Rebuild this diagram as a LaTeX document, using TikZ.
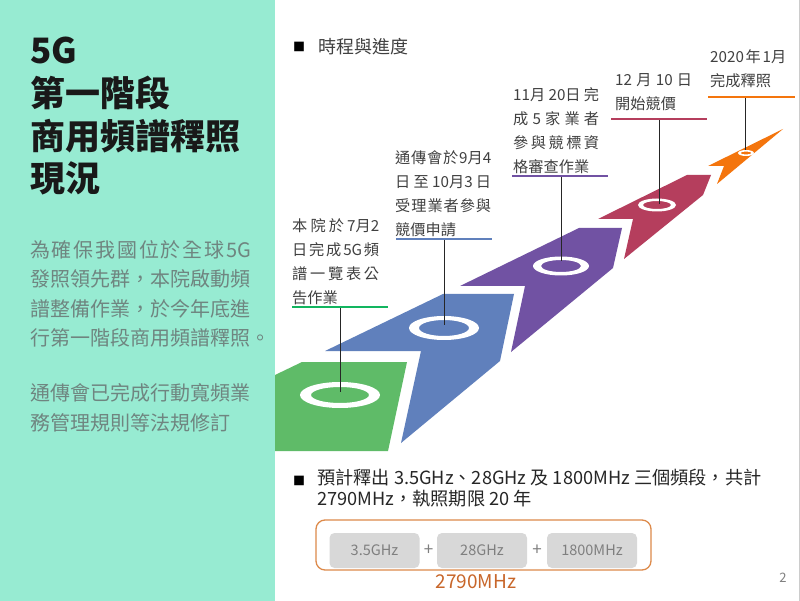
\documentclass[tikz,border=0pt]{standalone}
\usepackage{fontspec}
\setmainfont{Noto Sans CJK TC}
\definecolor{panel}{HTML}{97EBD2}
\definecolor{grayt}{HTML}{6F8580}
\definecolor{inkt}{HTML}{404040}
\definecolor{cgreen}{HTML}{5FBB68}
\definecolor{cblue}{HTML}{6080BC}
\definecolor{cpurple}{HTML}{7152A3}
\definecolor{ccrim}{HTML}{B53E5D}
\definecolor{corange}{HTML}{F4750D}
\definecolor{lgreen}{HTML}{12B55F}
\definecolor{boxo}{HTML}{DD8A4A}
\definecolor{boxg}{HTML}{D8D8D8}
\definecolor{boxt}{HTML}{7F7F7F}
\definecolor{tott}{HTML}{C8662A}
\newcommand{\jl}[2]{\makebox[#1pt][s]{#2}}
\tikzset{
  x=1pt,y=-1pt,
  step label/.style={anchor=north west,inner sep=0pt,align=left,text=inkt,font=\fontsize{15.2}{24}\selectfont},
  stem/.style={draw=black!85,line width=0.9pt},
  gband/.style={inner sep=0pt,minimum height=35pt,minimum width=90pt,rounded corners=5pt,fill=boxg,text=boxt,font=\fontsize{14.5}{16}\selectfont},
  plus/.style={inner sep=0pt,text=boxt,font=\fontsize{17}{18}\selectfont},
}
\begin{document}
\begin{tikzpicture}
\useasboundingbox (0,0) rectangle (800,601);
\fill[white] (0,0) rectangle (800,601);
\fill[panel] (0,0) rectangle (275,601);
\fill[black!20] (798.6,0) rectangle (800,601);
\node[anchor=north west,inner sep=0pt,align=left,font=\bfseries\fontsize{35}{42.7}\selectfont,text=black!90] (title) at (30,37) {5G\\第一階段\\商用頻譜釋照\\現況};
\node[anchor=north west,inner sep=0pt,align=left,font=\fontsize{20}{29.6}\selectfont,text=grayt] (intro) at (30,240) {\jl{221}{為\hfill 確\hfill 保\hfill 我\hfill 國\hfill 位\hfill 於\hfill 全\hfill 球\hfill 5G}\\\jl{221}{發照領先群，本院啟動頻}\\\jl{221}{譜整備作業，於今年底進}\\行第一階段商用頻譜釋照。\\[25pt]通傳會已完成行動寬頻業\\務管理規則等法規修訂};
\node[anchor=west,inner sep=0pt,font=\fontsize{12}{20}\selectfont,text=black] (headb) at (293,47) {■};
\node[anchor=west,inner sep=0pt,font=\fontsize{18}{20}\selectfont,text=inkt] (head) at (318,47) {時程與進度};
% arrows
\fill[cgreen] (275,375) -- (302,362) -- (407,362) -- (388,451) -- (275,451) -- cycle;
\fill[cblue] (325,351) -- (443,294) -- (514,294) -- (500,361) -- (401,443) -- (421,351) -- cycle;
\fill[cpurple] (460,286) -- (579,228) -- (622,228) -- (613,268) -- (511,352) -- (525,286) -- cycle;
\fill[ccrim] (598,219) -- (687,175) -- (711,175) -- (703,195) -- (624,259) -- (633,219) -- cycle;
\fill[corange] (708,166) -- (783,129) -- (717,184) -- (724,166) -- cycle;
% rings
\fill[white,even odd rule] (340,395) ellipse [x radius=40,y radius=13] (340,395) ellipse [x radius=29,y radius=8];
\fill[white,even odd rule] (444,328) ellipse [x radius=35,y radius=12] (444,328) ellipse [x radius=25,y radius=8];
\fill[white,even odd rule] (561,266) ellipse [x radius=28,y radius=9.5] (561,266) ellipse [x radius=20,y radius=6];
\fill[white,even odd rule] (657,205) ellipse [x radius=19,y radius=6.5] (657,205) ellipse [x radius=14,y radius=4];
\fill[white,even odd rule] (746,153) ellipse [x radius=8,y radius=3] (746,153) ellipse [x radius=5.5,y radius=1.5];
% labels
\node[step label] (l1) at (292,218) {\jl{87}{本\hfill 院\hfill 於\hfill 7月2}\\\jl{87}{日\hfill 完\hfill 成\hfill 5G\hfill 頻}\\\jl{87}{譜\hfill 一\hfill 覽\hfill 表\hfill 公}\\告作業};
\node[step label] (l2) at (395,150) {\jl{96}{通\hfill 傳\hfill 會\hfill 於\hfill 9月4}\\\jl{96}{日\hfill 至\hfill 10月3\hfill 日}\\\jl{96}{受\hfill 理\hfill 業\hfill 者\hfill 參\hfill 與}\\競價申請};
\node[step label] (l3) at (513,87) {\jl{86}{11月\hfill 20日\hfill 完}\\\jl{86}{成\hfill 5\hfill 家\hfill 業\hfill 者}\\\jl{86}{參\hfill 與\hfill 競\hfill 標\hfill 資}\\格審查作業};
\node[step label] (l4) at (615,73) {\jl{77}{12\hfill 月\hfill 10\hfill 日}\\開始競價};
\node[step label] (l5) at (710,49) {\jl{76}{2020\hfill 年\hfill 1月}\\完成釋照};
% leaders
\coordinate (a1) at (292,307); \coordinate (b1) at (388,307);
\coordinate (a2) at (396,239); \coordinate (b2) at (492,239);
\coordinate (a3) at (512,176); \coordinate (b3) at (608,176);
\coordinate (a4) at (611,119); \coordinate (b4) at (707,119);
\coordinate (a5) at (708,97);  \coordinate (b5) at (795,97);
\draw[line width=1.8pt,draw=lgreen] (a1) -- (b1);
\draw[line width=1.8pt,draw=cblue] (a2) -- (b2);
\draw[line width=1.8pt,draw=cpurple] (a3) -- (b3);
\draw[line width=1.8pt,draw=ccrim] (a4) -- (b4);
\draw[line width=1.8pt,draw=corange] (a5) -- (b5);
\coordinate (s1) at (340,392); \coordinate (t1) at (340,308); \draw[stem] (t1) -- (s1);
\coordinate (s2) at (444,325); \coordinate (t2) at (444,240); \draw[stem] (t2) -- (s2);
\coordinate (s3) at (561,261); \coordinate (t3) at (561,177); \draw[stem] (t3) -- (s3);
\coordinate (s4) at (659,204); \coordinate (t4) at (659,120); \draw[stem] (t4) -- (s4);
\coordinate (s5) at (745,150); \coordinate (t5) at (745,98); \draw[stem] (t5) -- (s5);
% lower text
\node[anchor=west,inner sep=0pt,font=\fontsize{12}{20}\selectfont,text=black] (bulb) at (293,481) {■};
\node[anchor=north west,inner sep=0pt,align=left,font=\fontsize{18.2}{21}\selectfont,text=black!85] (bul) at (317,469) {預計釋出 3.5GHz、28GHz 及 1800MHz 三個頻段，共計\\2790MHz，執照期限 20 年};
\draw[boxo,line width=1.3pt,rounded corners=9pt] (316,520) rectangle (651,570);
\node[gband] (g1) at (374.5,550.5) {3.5GHz};
\node[gband] (g2) at (482,550.5) {28GHz};
\node[gband] (g3) at (592,550.5) {1800MHz};
\node[plus] (p1) at (428.5,550) {+};
\node[plus] (p2) at (537,550) {+};
\node[inner sep=0pt,font=\fontsize{19}{20}\selectfont,text=tott] (tot) at (476,582) {2790MHz};
\node[inner sep=0pt,font=\fontsize{13}{15}\selectfont,text=gray] (pg) at (783,578) {2};
\end{tikzpicture}
\end{document}
